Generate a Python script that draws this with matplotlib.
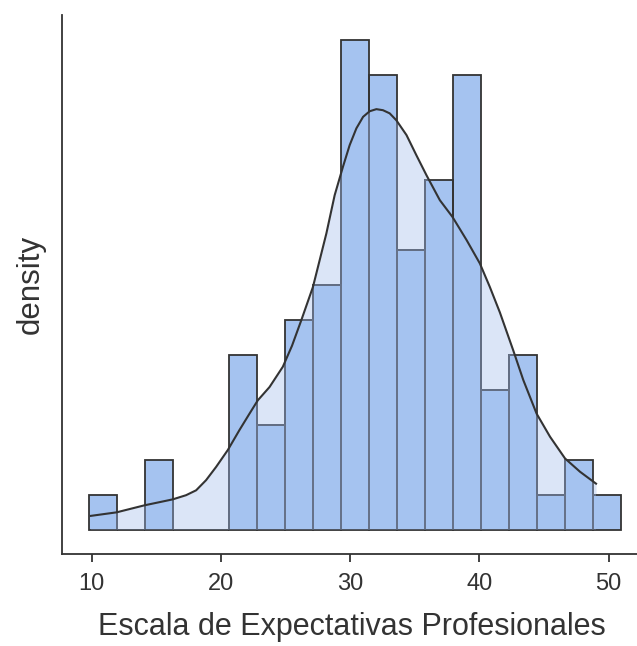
import numpy as np
import matplotlib.pyplot as plt
from matplotlib.patches import Polygon

plt.rcParams['font.family'] = ['Liberation Sans', 'DejaVu Sans']

# histograma (conteos por clase)
bin_start = 9.76
bin_width = 2.17
counts = [1, 0, 2, 0, 0, 5, 3, 6, 7, 14, 13, 8, 10, 13, 4, 5, 1, 2, 1]

# curva de densidad (altura en unidades de conteo)
kde_x = [9.94, 11.92, 14.07, 16.26, 17.3, 18.08, 18.85, 19.63, 20.53, 21.43,
         22.21, 22.85, 23.76, 24.79, 25.5, 26.22, 27.12, 28.16, 28.8, 29.44,
         29.96, 30.48, 31.0, 31.51, 32.03, 32.54, 33.06, 33.58, 34.36, 35.13,
         35.91, 36.94, 37.92, 39.01, 40.04, 40.81, 41.59, 42.62, 43.4, 44.43,
         45.47, 46.63, 47.79, 49.03]
kde_h = [0.39, 0.49, 0.69, 0.86, 0.98, 1.12, 1.41, 1.79, 2.27, 2.84,
         3.31, 3.69, 4.07, 4.65, 5.25, 5.98, 6.93, 8.46, 9.55, 10.36,
         10.98, 11.46, 11.79, 11.95, 12.01, 11.98, 11.89, 11.69, 11.27, 10.69,
         10.12, 9.41, 8.93, 8.27, 7.6, 6.93, 6.2, 5.12, 4.27, 3.31,
         2.65, 2.03, 1.65, 1.31]

xticks = [10, 20, 30, 40, 50]
xlabel = 'Escala de Expectativas Profesionales'
ylabel = 'density'

n = sum(counts)
scale = n * bin_width
dens = np.array(counts) / scale
kx = np.array(kde_x)
ky = np.array(kde_h) / scale
lefts = bin_start + bin_width * np.arange(len(counts))

bar_col = '#a5c3f0'
fill_col = '#dbe5f7'
dark = '#333333'
light_edge = '#67738a'

fig = plt.figure(figsize=(6.37, 6.46), dpi=100)
ax = fig.add_axes([62 / 637, 92 / 646, 586 / 637, 539 / 646])

# relleno de la densidad (detras de las barras)
ax.fill_between(kx, 0, ky, color=fill_col, lw=0, zorder=1)

ax.bar(lefts, dens, width=bin_width, align='edge', color=bar_col, lw=0, zorder=2)
ax.bar(lefts, dens, width=bin_width, align='edge', fill=False,
       edgecolor=dark, lw=1.3, zorder=3)
# bordes aclarados donde quedan bajo el relleno
clip = Polygon(np.column_stack([np.r_[kx[0], kx, kx[-1]], np.r_[0, ky, 0]]),
               closed=True, transform=ax.transData)
light = ax.bar(lefts, dens, width=bin_width, align='edge', fill=False,
               edgecolor=light_edge, lw=1.3, zorder=4)
for p in light:
    p.set_clip_path(clip)

ax.plot(kx, ky, color=dark, lw=1.5, zorder=5, solid_joinstyle='round')

xr = lefts[-1] + bin_width - bin_start
ax.set_xlim(bin_start - 0.05 * xr, bin_start + 1.05 * xr)
ax.set_ylim(-0.05 * dens.max(), 1.05 * dens.max())

for s in ['top', 'right']:
    ax.spines[s].set_visible(False)
for s in ['left', 'bottom']:
    ax.spines[s].set_color(dark)
    ax.spines[s].set_linewidth(1.3)

ax.set_yticks([])
ax.set_xticks(xticks)
ax.tick_params(axis='x', length=6, width=1.3, color=dark, labelsize=17,
               labelcolor=dark, pad=8)
ax.set_xlabel(xlabel, fontsize=22, color=dark)
ax.xaxis.set_label_coords(0.495, -0.108)
ax.set_ylabel(ylabel, fontsize=22.5, color=dark, labelpad=12)

fig.savefig('out.png', dpi=100)
